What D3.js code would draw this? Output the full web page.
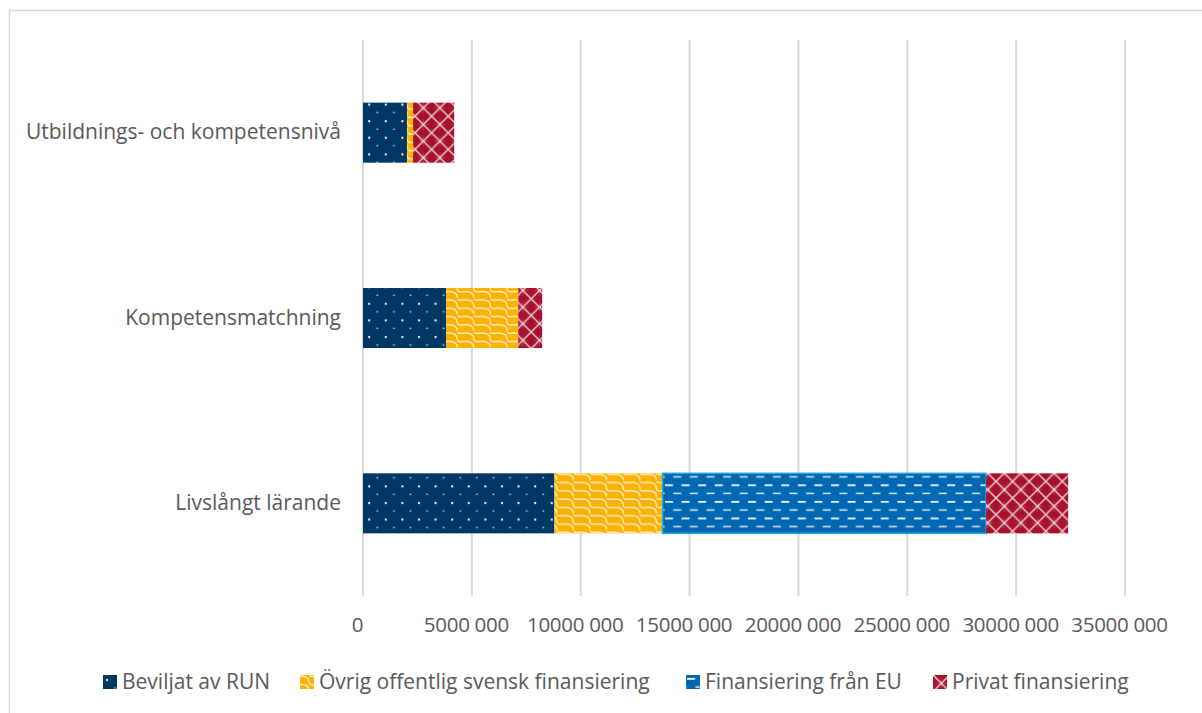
<!DOCTYPE html>
<html>
<head>
<meta charset="utf-8">
<script src="https://cdn.jsdelivr.net/npm/d3@7"></script>
<style>
  body { margin: 0; background: #fff; }
  text { font-family: "Open Sans", sans-serif; fill: #595959; }
</style>
</head>
<body>
<svg id="chart" width="1202" height="713"></svg>
<script>
// data (SEK)
var categories = ["Utbildnings- och kompetensnivå", "Kompetensmatchning", "Livslångt lärande"]
var seriesNames = ["Beviljat av RUN", "Övrig offentlig svensk finansiering", "Finansiering från EU", "Privat finansiering"]
var beviljatRUN = [2020000, 3820000, 8790000]
var ovrigOffentlig = [280000, 3310000, 4970000]
var finansieringEU = [0, 0, 14860000]
var privatFinansiering = [1890000, 1100000, 3770000]
var tickValues = [0, 5000000, 10000000, 15000000, 20000000, 25000000, 30000000, 35000000]
var tickLabels = ["0", "5000 000", "10000 000", "15000 000", "20000 000", "25000 000", "30000 000", "35000 000"]

var colors = ["#003864", "#fbb200", "#0068b2", "#a6122e"]
var svg = d3.select("#chart")

// outer frame
svg.append("rect")
    .attr("x", 9.5).attr("y", 10.5)
    .attr("width", 1200).attr("height", 710)
    .attr("fill", "none").attr("stroke", "#d9d9d9").attr("stroke-width", 1.5)

// fill patterns (Excel-like)
var defs = svg.append("defs")
var tile = 16.6

var p0 = defs.append("pattern").attr("id", "pat0").attr("patternUnits", "userSpaceOnUse")
    .attr("width", tile).attr("height", tile)
p0.append("rect").attr("width", tile).attr("height", tile).attr("fill", colors[0])
p0.append("rect").attr("x", 3).attr("y", 4).attr("width", 2).attr("height", 2).attr("fill", "#fff")
p0.append("rect").attr("x", 11.3).attr("y", 12.3).attr("width", 1.6).attr("height", 1.4).attr("fill", "#fff").attr("opacity", 0.8)

var p1 = defs.append("pattern").attr("id", "pat1").attr("patternUnits", "userSpaceOnUse")
    .attr("width", tile).attr("height", tile)
p1.append("rect").attr("width", tile).attr("height", tile).attr("fill", colors[1])
p1.append("path")
    .attr("d", "M0,1 C6,1 9,3 9,7 C9,10 12,10 16.6,9.3 M0,9.3 C6,9.3 9,11.3 9,15.3 M9,-1.3 C9,1.7 12,1.7 16.6,1")
    .attr("fill", "none").attr("stroke", "#fff").attr("stroke-width", 1.3).attr("opacity", 0.85)

var p2 = defs.append("pattern").attr("id", "pat2").attr("patternUnits", "userSpaceOnUse")
    .attr("width", tile).attr("height", tile)
p2.append("rect").attr("width", tile).attr("height", tile).attr("fill", colors[2])
p2.append("rect").attr("x", 1).attr("y", 3).attr("width", 8).attr("height", 1.7).attr("fill", "#fff")
p2.append("rect").attr("x", 9.3).attr("y", 11.3).attr("width", 8).attr("height", 1.5).attr("fill", "#fff").attr("opacity", 0.85)
p2.append("rect").attr("x", -7.3).attr("y", 11.3).attr("width", 8).attr("height", 1.5).attr("fill", "#fff").attr("opacity", 0.85)

var p3 = defs.append("pattern").attr("id", "pat3").attr("patternUnits", "userSpaceOnUse")
    .attr("width", tile).attr("height", tile)
p3.append("rect").attr("width", tile).attr("height", tile).attr("fill", colors[3])
p3.append("path")
    .attr("d", "M0,0 L" + tile + "," + tile + " M" + tile + ",0 L0," + tile)
    .attr("fill", "none").attr("stroke", "#fff").attr("stroke-width", 1.4).attr("opacity", 0.8)
p3.append("path")
    .attr("d", "M" + tile / 2 + ",3 L" + tile / 2 + ",13.6 M3," + tile / 2 + " L13.6," + tile / 2)
    .attr("fill", "none").attr("stroke", "#fff").attr("stroke-width", 0.6).attr("opacity", 0.25)

// scales
var xScale = d3.scaleLinear().domain([0, 35000000]).range([363, 1125])
var yScale = d3.scaleBand().domain(categories).range([40, 596]).paddingInner(0.676).paddingOuter(0.338)

// gridlines
svg.append("g").selectAll("line")
    .data(tickValues)
    .join("line")
    .attr("x1", d => xScale(d)).attr("x2", d => xScale(d))
    .attr("y1", 40).attr("y2", 596)
    .attr("stroke", "#d9d9d9").attr("stroke-width", 2)

// stacked bars
var rows = categories.map((c, i) => ({
    cat: c, v0: beviljatRUN[i], v1: ovrigOffentlig[i], v2: finansieringEU[i], v3: privatFinansiering[i]
}))
var stacked = d3.stack().keys(["v0", "v1", "v2", "v3"])(rows)

svg.append("g").selectAll("g")
    .data(stacked)
    .join("g")
    .attr("fill", (d, i) => "url(#pat" + i + ")")
    .attr("stroke", (d, i) => i == 2 ? "#19a9e6" : "none")
    .attr("stroke-width", 1.5)
    .selectAll("rect")
    .data(d => d.filter(e => e[1] - e[0] > 0))
    .join("rect")
    .attr("x", d => xScale(d[0]))
    .attr("y", d => yScale(d.data.cat))
    .attr("width", d => xScale(d[1]) - xScale(d[0]))
    .attr("height", yScale.bandwidth())

// x axis labels
var xAxis = d3.axisBottom(xScale).tickValues(tickValues)
    .tickFormat((d, i) => tickLabels[i]).tickSize(0).tickPadding(0)
var gx = svg.append("g").attr("transform", "translate(-6,618)").call(xAxis)
gx.select(".domain").remove()
gx.selectAll("text").attr("font-size", "20.5px").attr("fill", "#595959")
    .attr("font-family", "'Open Sans', sans-serif").attr("dy", "0.68em")
    .attr("letter-spacing", "-0.3px")

// category labels
var yAxis = d3.axisLeft(yScale).tickSize(0).tickPadding(22)
var gy = svg.append("g").attr("transform", "translate(363,0)").call(yAxis)
gy.select(".domain").remove()
gy.selectAll("text").attr("font-size", "21px").attr("fill", "#595959")
    .attr("font-family", "'Open Sans', sans-serif")

// legend
var legendX = [103, 300, 686, 933]
var legend = svg.append("g").selectAll("g")
    .data(seriesNames)
    .join("g")
    .attr("transform", (d, i) => "translate(" + legendX[i] + ",675)")
legend.append("rect")
    .attr("width", 14).attr("height", 14)
    .attr("fill", (d, i) => "url(#pat" + i + ")")
legend.append("text")
    .attr("x", 19).attr("y", 7).attr("dy", "0.35em")
    .attr("font-size", "21px")
    .text(d => d)
</script>
</body>
</html>
